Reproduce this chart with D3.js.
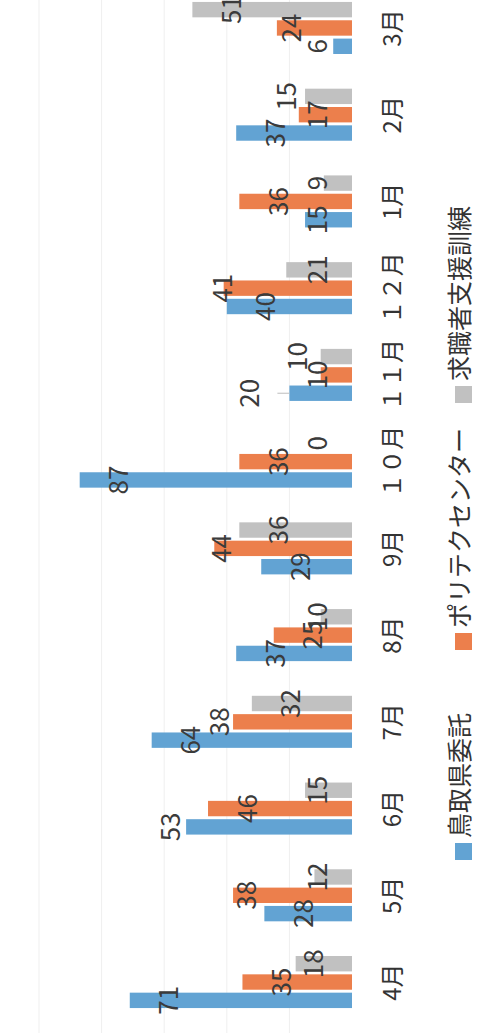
<!DOCTYPE html>
<html>
<head>
<meta charset="utf-8">
<script src="https://cdn.jsdelivr.net/npm/d3@7"></script>
<style>
  html, body { margin: 0; padding: 0; background: #fff; }
  svg { display: block; font-family: "Noto Sans CJK JP", "Noto Sans", sans-serif; }
</style>
</head>
<body>
<svg id="chart" width="494" height="1033"></svg>
<script>
// Monthly counts by training route (April through March)
const months = ["4月", "5月", "6月", "7月", "8月", "9月", "１０月", "１１月", "１２月", "1月", "2月", "3月"];
const seriesNames = ["鳥取県委託", "ポリテクセンター", "求職者支援訓練"];
const tottori = [71, 28, 53, 64, 37, 29, 87, 20, 40, 15, 37, 6];
const polytech = [35, 38, 46, 38, 25, 44, 36, 10, 41, 36, 17, 24];
const kyushoku = [18, 12, 15, 32, 10, 36, 0, 10, 21, 9, 15, 51];
const gridTicks = [20, 40, 60, 80, 100];

// Hand-placed label nudges (px toward the bar tip), by series then month
const labelNudge = {
  "鳥取県委託":     [0, 0, 55, 0, 0, 0, 0, 68, 0, 0, 0, 0],
  "ポリテクセンター": [0, 26, 0, 53, 0, 32, 0, 0, 40, 0, 0, 24],
  "求職者支援訓練":   [4, 0, 0, 0, 0, 0, 0, 20, 0, 0, 31, 0]
};
const colors = { "鳥取県委託": "#62a3d3", "ポリテクセンター": "#ec7f4c", "求職者支援訓練": "#c1c1c1" };

const W = 1033, H = 494;           // chart frame before turning it on its side
const svg = d3.select("#chart");
const g = svg.append("g").attr("transform", `translate(0,${W}) rotate(-90)`);

const seriesValues = [tottori, polytech, kyushoku];
const rows = months.map((m, i) => ({
  month: m,
  values: seriesNames.map((s, k) => ({ series: s, value: seriesValues[k][i], nudge: labelNudge[s][i] }))
}));

const baseline = 352;
const x0 = d3.scaleBand().domain(months).range([7.6, 1048.4]).paddingInner(0.4).paddingOuter(0.2);
const x1 = d3.scaleBand().domain(seriesNames).range([0, x0.bandwidth()]).paddingInner(0.16);
const y = d3.scaleLinear().domain([0, 100]).range([baseline, baseline - 313]);

// gridlines
g.append("g").selectAll("line").data(gridTicks).join("line")
  .attr("x1", 0).attr("x2", W)
  .attr("y1", d => y(d)).attr("y2", d => y(d))
  .attr("stroke", "#efefef").attr("stroke-width", 1);

// bars
const groups = g.append("g").selectAll("g").data(rows).join("g")
  .attr("transform", d => `translate(${x0(d.month)},0)`);

groups.selectAll("rect").data(d => d.values).join("rect")
  .attr("x", d => x1(d.series))
  .attr("y", d => y(d.value))
  .attr("width", x1.bandwidth())
  .attr("height", d => y(0) - y(d.value))
  .attr("fill", d => colors[d.series]);

// value labels sit a little inside the bar tip, never closer than 37px to the base
const labelInset = 37;
const labelPos = d => Math.min(y(d.value) + labelInset, baseline - labelInset) - d.nudge;

groups.selectAll("text.val").data(d => d.values).join("text")
  .attr("class", "val")
  .attr("x", d => x1(d.series) + x1.bandwidth() / 2)
  .attr("y", labelPos)
  .attr("text-anchor", "middle")
  .attr("dominant-baseline", "central")
  .attr("font-size", 26)
  .attr("fill", "#3b3b3b")
  .text(d => d.value);

// leader line for a label moved well away from its bar
groups.selectAll("line.leader").data(d => d.values.filter(v => v.nudge > 50 && v.value <= 25)).join("line")
  .attr("class", "leader")
  .attr("x1", d => x1(d.series) + x1.bandwidth() / 2)
  .attr("x2", d => x1(d.series) + x1.bandwidth() / 2)
  .attr("y1", d => y(d.value))
  .attr("y2", d => y(d.value) - 12)
  .attr("stroke", "#bdbdbd").attr("stroke-width", 1);

// category labels
g.append("g").selectAll("text").data(months).join("text")
  .attr("x", d => x0(d) + x0.bandwidth() / 2)
  .attr("y", 401)
  .attr("text-anchor", "middle")
  .attr("font-size", 24)
  .attr("fill", "#333")
  .text(d => d);

// legend
const legendStart = [173, 383, 630];
const legend = g.append("g").selectAll("g").data(seriesNames).join("g")
  .attr("transform", (d, i) => `translate(${legendStart[i]},455)`);
legend.append("rect").attr("width", 17).attr("height", 17).attr("fill", d => colors[d]);
legend.append("text").attr("x", 22).attr("y", 14)
  .attr("font-size", 25).attr("fill", "#333").text(d => d);
</script>
</body>
</html>
